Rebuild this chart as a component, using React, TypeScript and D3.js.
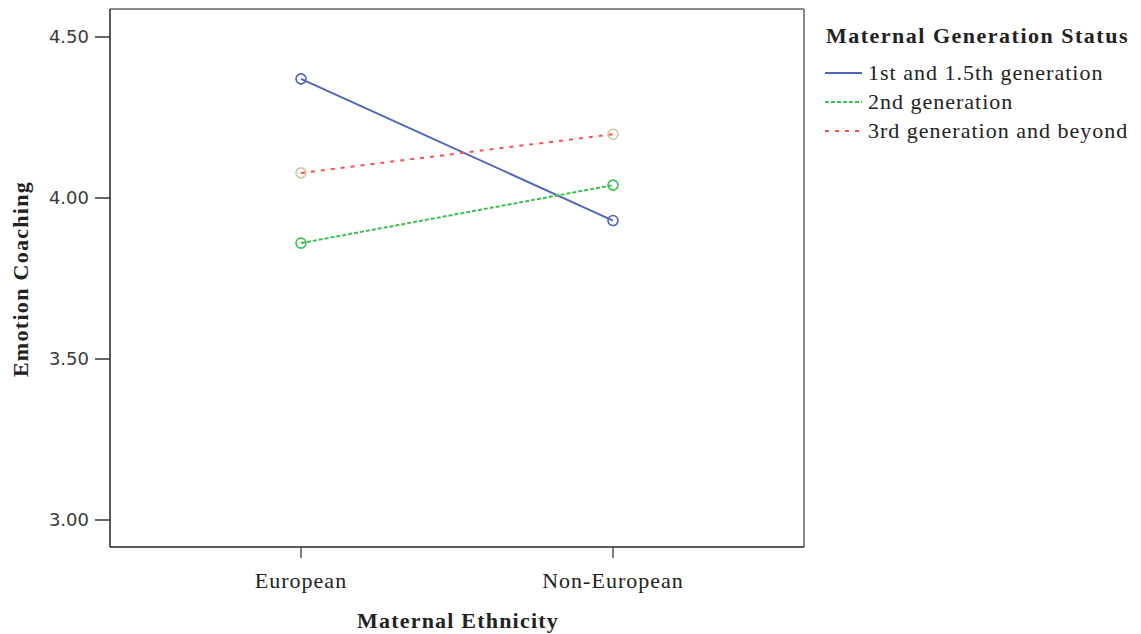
import React from "react";
import * as d3 from "d3";

const categories = ["European", "Non-European"];
const seriesNames = ["1st and 1.5th generation", "2nd generation", "3rd generation and beyond"];
const gen1 = [4.37, 3.93];
const gen2 = [3.86, 4.04];
const gen3 = [4.078, 4.198];
const yTicks = [3.0, 3.5, 4.0, 4.5];

const seriesValues = [gen1, gen2, gen3];
const lineColors = ["#5064bc", "#3fbf4f", "#ff4d4d"];
const markerColors = ["#5064bc", "#3fbf4f", "#cfc79a"];
const dashes = [null, "4,2", "4,6"];

const W = 1141;
const H = 634;
const frame = { left: 110, top: 9, right: 804, bottom: 547 };

export default function App() {
  const y = d3.scaleLinear().domain([3.0, 4.5]).range([520, 37]);
  const x = d3.scalePoint<string>().domain(categories).range([301, 613]);
  const line = d3
    .line<number>()
    .x((_, i) => x(categories[i]) as number)
    .y((d) => y(d));

  const serif = "'Liberation Serif', 'Times New Roman', serif";
  const sans = "'DejaVu Sans', sans-serif";

  return (
    <div style={{ position: "absolute", left: 0, top: 0 }}>
      <svg width={W} height={H} style={{ display: "block", background: "#fff" }}>
        <rect x={0} y={0} width={W} height={H} fill="#fff" />
        {/* frame */}
        <line x1={frame.left} x2={frame.right} y1={frame.top} y2={frame.top} stroke="#8a8a8a" strokeWidth={2} />
        <line x1={frame.right} x2={frame.right} y1={frame.top} y2={frame.bottom} stroke="#8a8a8a" strokeWidth={2} />
        <line x1={frame.left} x2={frame.right} y1={frame.bottom} y2={frame.bottom} stroke="#222" strokeWidth={1.5} />
        <line x1={frame.left} x2={frame.left} y1={frame.top} y2={frame.bottom} stroke="#222" strokeWidth={1.5} />

        {/* y ticks */}
        {yTicks.map((t) => (
          <g key={t}>
            <line x1={frame.left - 15} x2={frame.left} y1={y(t)} y2={y(t)} stroke="#333" strokeWidth={1.5} />
            <text x={frame.left - 21} y={y(t)} dy="0.36em" textAnchor="end" fontFamily={sans} fontSize={18} fill="#3a3a3a">
              {d3.format(".2f")(t)}
            </text>
          </g>
        ))}

        {/* x ticks */}
        {categories.map((c) => (
          <g key={c}>
            <line x1={x(c)} x2={x(c)} y1={frame.bottom} y2={frame.bottom + 11} stroke="#555" strokeWidth={1.5} />
            <text x={x(c)} y={frame.bottom + 41} textAnchor="middle" fontFamily={serif} fontSize={22} letterSpacing={1} fill="#222">
              {c}
            </text>
          </g>
        ))}

        {/* axis titles */}
        <text x={458} y={628} textAnchor="middle" fontFamily={serif} fontWeight="bold" fontSize={22} letterSpacing={1.2} fill="#222">
          Maternal Ethnicity
        </text>
        <text
          transform={`translate(28,${279}) rotate(-90)`}
          textAnchor="middle"
          fontFamily={serif}
          fontWeight="bold"
          fontSize={22}
          letterSpacing={1.3}
          fill="#222"
        >
          Emotion Coaching
        </text>

        {/* lines */}
        {seriesValues.map((vals, si) => (
          <path
            key={si}
            d={line(vals) as string}
            fill="none"
            stroke={lineColors[si]}
            strokeWidth={2}
            strokeDasharray={dashes[si] ?? undefined}
          />
        ))}
        {/* markers */}
        {seriesValues.map((vals, si) =>
          vals.map((v, i) => (
            <circle
              key={`${si}-${i}`}
              cx={x(categories[i]) as number}
              cy={y(v)}
              r={5}
              fill="none"
              stroke={markerColors[si]}
              strokeWidth={1.6}
            />
          ))
        )}

        {/* legend */}
        <text x={826} y={43} fontFamily={serif} fontWeight="bold" fontSize={22} letterSpacing={1.5} fill="#222">
          Maternal Generation Status
        </text>
        {seriesNames.map((n, i) => (
          <g key={n} transform={`translate(0,${73 + i * 29})`}>
            <line x1={825} x2={862} y1={0} y2={0} stroke={lineColors[i]} strokeWidth={2} strokeDasharray={dashes[i] ?? undefined} />
            <text x={868} y={0} dy="0.33em" fontFamily={serif} fontSize={22} letterSpacing={1} fill="#222">
              {n}
            </text>
          </g>
        ))}
      </svg>
    </div>
  );
}
